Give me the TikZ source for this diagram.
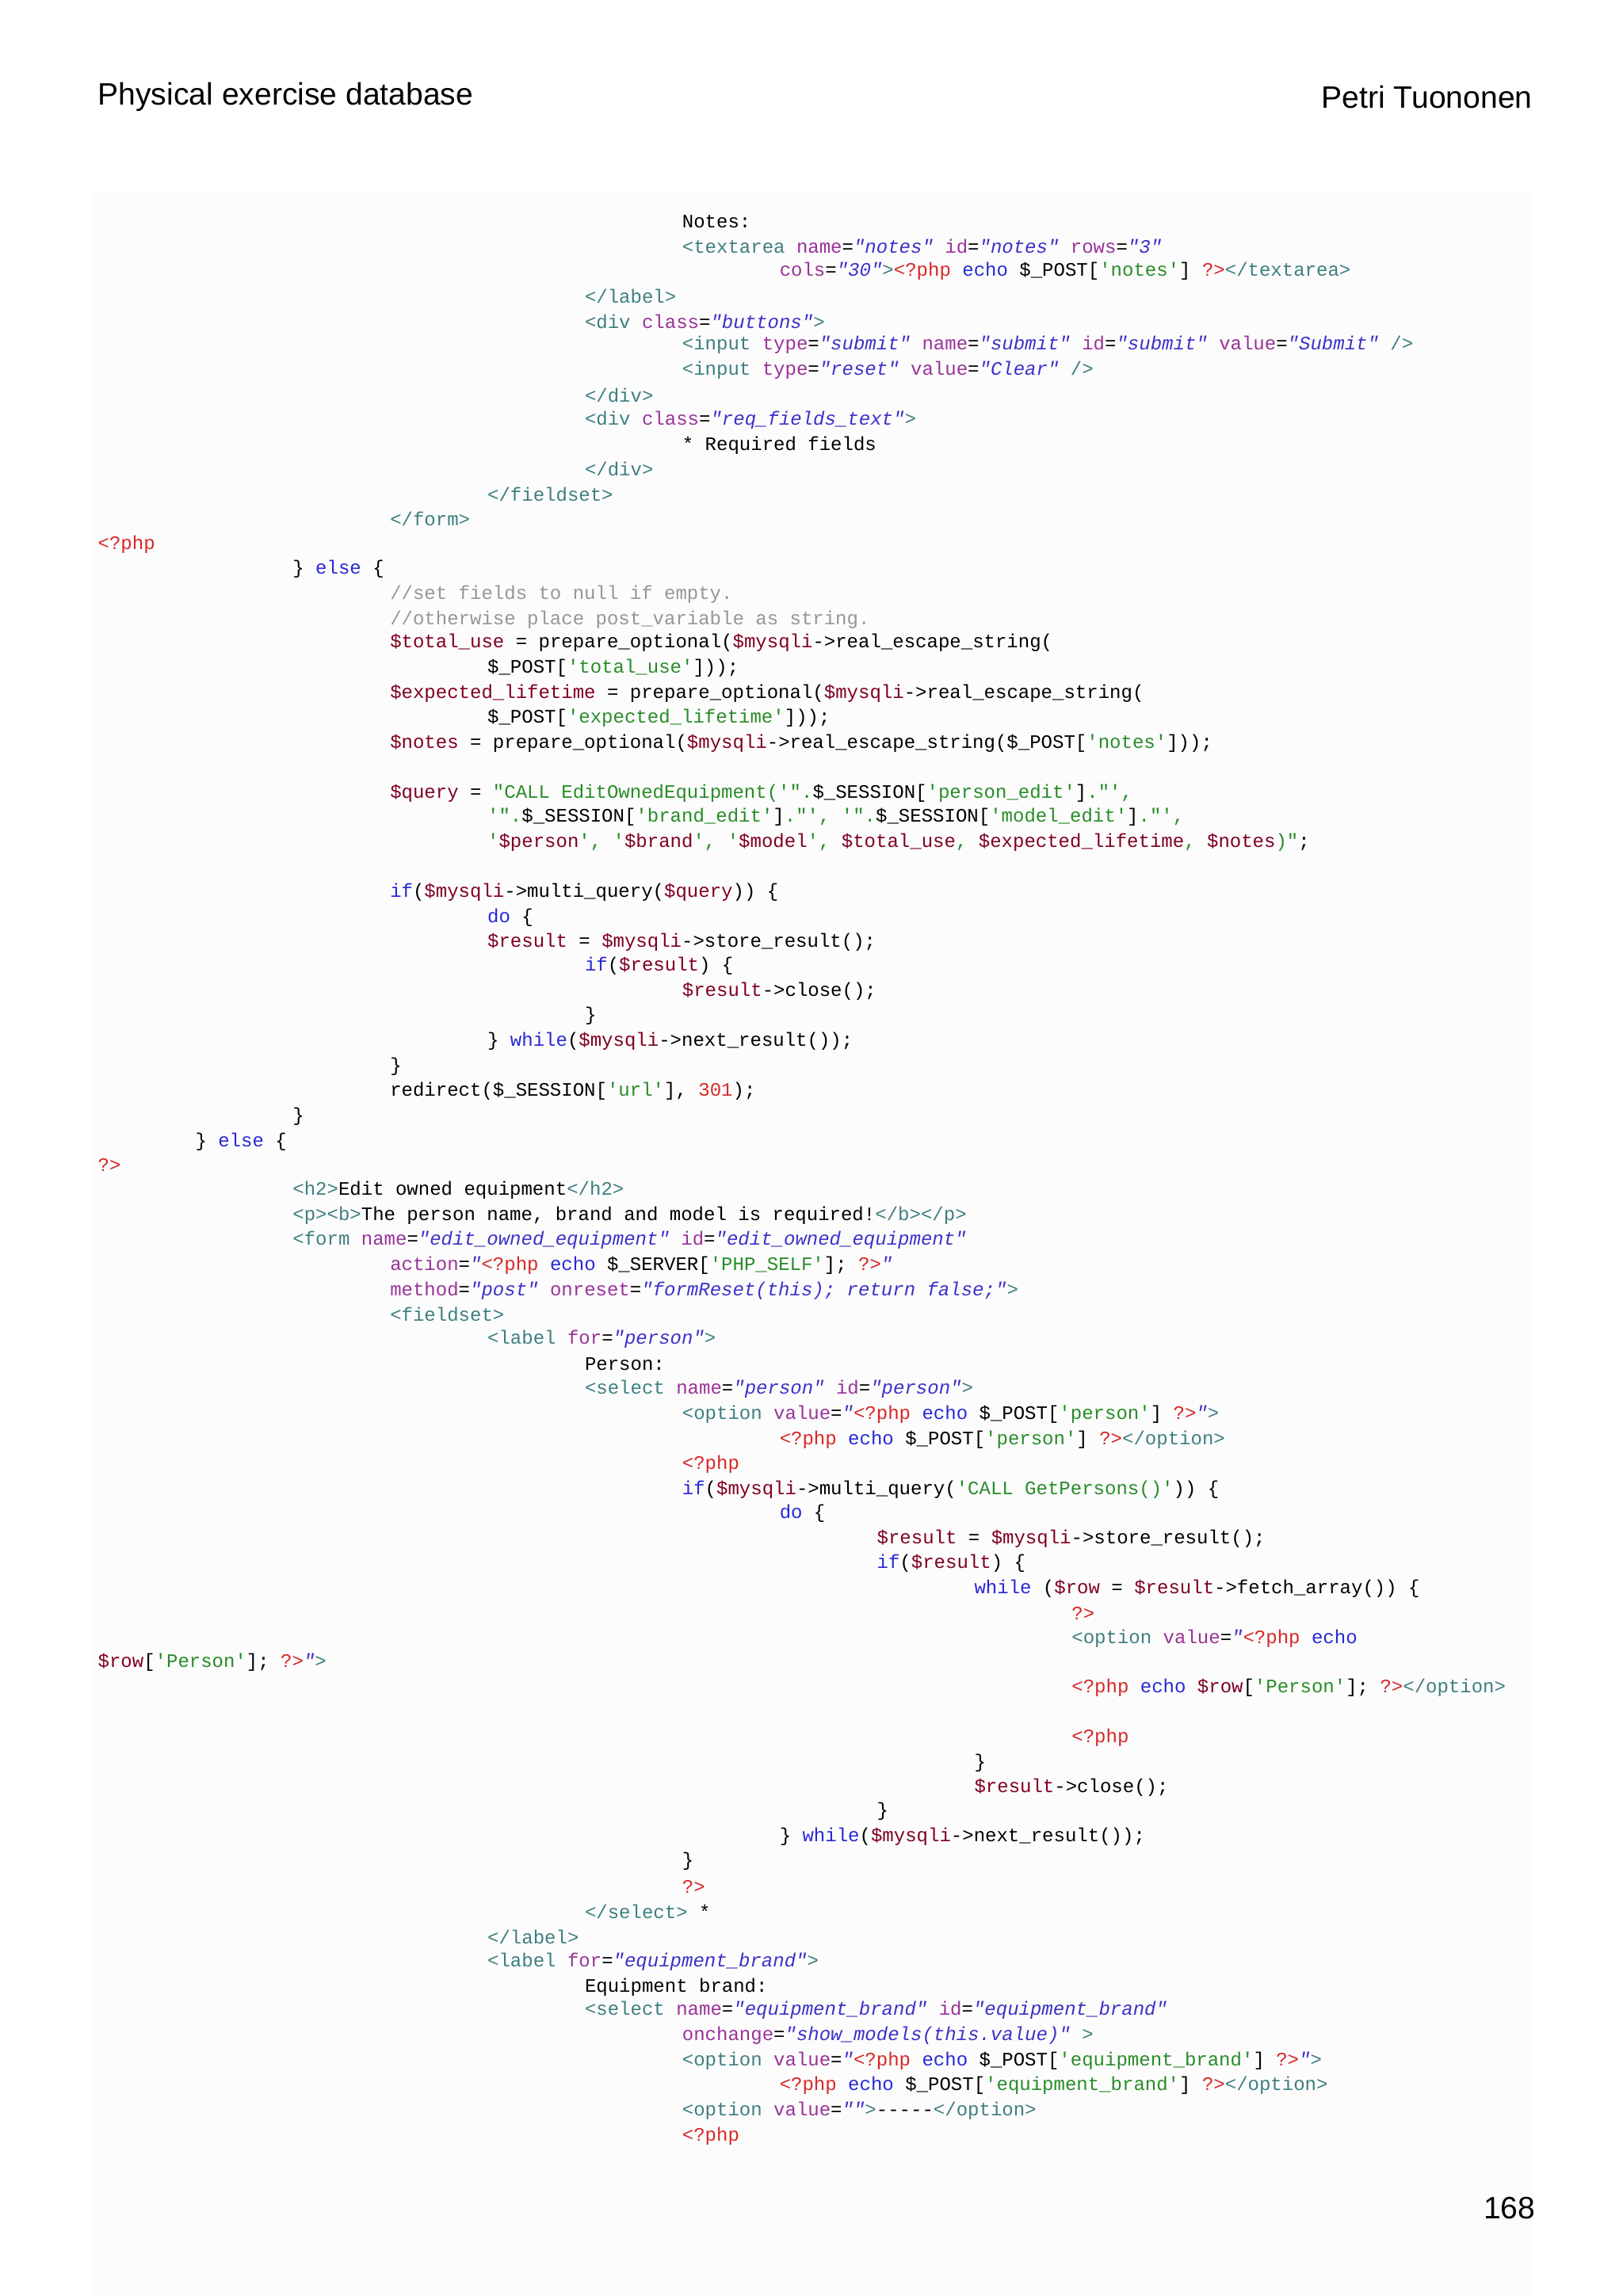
\documentclass[tikz,border=0pt]{standalone}
\usepackage{fontspec}
\setmainfont{Liberation Sans}
\newfontfamily\codefont{Liberation Mono}
\definecolor{ctag}{RGB}{63,127,127}
\definecolor{cattr}{RGB}{153,51,153}
\definecolor{cval}{RGB}{60,50,200}
\definecolor{cphp}{RGB}{215,40,40}
\definecolor{ckw}{RGB}{40,40,215}
\definecolor{cvar}{RGB}{128,0,32}
\definecolor{cstr}{RGB}{40,140,40}
\definecolor{ccom}{RGB}{150,150,150}
\newcommand\Tg[1]{\textcolor{ctag}{#1}}
\newcommand\At[1]{\textcolor{cattr}{#1}}
\newcommand\Va[1]{\textcolor{cval}{\itshape #1}}
\newcommand\Ph[1]{\textcolor{cphp}{#1}}
\newcommand\Kw[1]{\textcolor{ckw}{#1}}
\newcommand\Vr[1]{\textcolor{cvar}{#1}}
\newcommand\St[1]{\textcolor{cstr}{#1}}
\newcommand\Cm[1]{\textcolor{ccom}{#1}}
\newcounter{ln}
\newcommand\cl[3]{\stepcounter{ln}\node[codeline] (l\theln) at (#1,-#2) {#3};}
\begin{document}
\begin{tikzpicture}[x=0.5pt,y=0.5pt,
  codeline/.style={anchor=west,inner sep=0pt,font=\codefont\fontsize{6.45pt}{7pt}\selectfont},
  hdr/.style={inner sep=0pt,font=\fontsize{10.5pt}{12pt}\selectfont}]
\useasboundingbox (0,0) rectangle (1100,-1556.6);
\fill[white] (0,0) rectangle (1100,-1556.6);
\fill[black!1.2] (62,-130) rectangle (1040,-1556.6);
\node[hdr,anchor=west] (title) at (66,-66) {Physical exercise database};
\node[hdr,anchor=east] (author) at (1039,-66) {Petri Tuononen};
\node[hdr,anchor=east] (page) at (1041,-1497) {168};
\cl{462}{150}{Notes:}
\cl{462}{167}{\Tg{<textarea} \At{name}=\Va{"notes"} \At{id}=\Va{"notes"} \At{rows}=\Va{"3"}}
\cl{528}{184}{\At{cols}=\Va{"30"}\Tg{>}\Ph{<?php} \Kw{echo} \$\_POST[\St{'notes'}] \Ph{?>}\Tg{</textarea>}}
\cl{396}{201}{\Tg{</label>}}
\cl{396}{218}{\Tg{<div} \At{class}=\Va{"buttons"}\Tg{>}}
\cl{462}{234}{\Tg{<input} \At{type}=\Va{"submit"} \At{name}=\Va{"submit"} \At{id}=\Va{"submit"} \At{value}=\Va{"Submit"} \Tg{/>}}
\cl{462}{251}{\Tg{<input} \At{type}=\Va{"reset"} \At{value}=\Va{"Clear"} \Tg{/>}}
\cl{396}{268}{\Tg{</div>}}
\cl{396}{285}{\Tg{<div} \At{class}=\Va{"req\_fields\_text"}\Tg{>}}
\cl{462}{302}{* Required fields}
\cl{396}{318}{\Tg{</div>}}
\cl{330}{335}{\Tg{</fieldset>}}
\cl{264}{352}{\Tg{</form>}}
\cl{66}{369}{\Ph{<?php}}
\cl{198}{386}{\} \Kw{else} \{}
\cl{264}{403}{\Cm{//set fields to null if empty.}}
\cl{264}{420}{\Cm{//otherwise place post\_variable as string.}}
\cl{264}{436}{\Vr{\$total\_use} = prepare\_optional(\Vr{\$mysqli}->real\_escape\_string(}
\cl{330}{453}{\$\_POST[\St{'total\_use'}]));}
\cl{264}{470}{\Vr{\$expected\_lifetime} = prepare\_optional(\Vr{\$mysqli}->real\_escape\_string(}
\cl{330}{487}{\$\_POST[\St{'expected\_lifetime'}]));}
\cl{264}{504}{\Vr{\$notes} = prepare\_optional(\Vr{\$mysqli}->real\_escape\_string(\$\_POST[\St{'notes'}]));}
\cl{264}{538}{\Vr{\$query} = \St{"CALL EditOwnedEquipment('".}\$\_SESSION[\St{'person\_edit'}]\St{."',}}
\cl{330}{554}{\St{'".}\$\_SESSION[\St{'brand\_edit'}]\St{."', '".}\$\_SESSION[\St{'model\_edit'}]\St{."',}}
\cl{330}{571}{\St{'}\Vr{\$person}\St{', '}\Vr{\$brand}\St{', '}\Vr{\$model}\St{', }\Vr{\$total\_use}\St{, }\Vr{\$expected\_lifetime}\St{, }\Vr{\$notes}\St{)"};}
\cl{264}{605}{\Kw{if}(\Vr{\$mysqli}->multi\_query(\Vr{\$query})) \{}
\cl{330}{622}{\Kw{do} \{}
\cl{330}{639}{\Vr{\$result} = \Vr{\$mysqli}->store\_result();}
\cl{396}{655}{\Kw{if}(\Vr{\$result}) \{}
\cl{462}{672}{\Vr{\$result}->close();}
\cl{396}{689}{\}}
\cl{330}{706}{\} \Kw{while}(\Vr{\$mysqli}->next\_result());}
\cl{264}{723}{\}}
\cl{264}{740}{redirect(\$\_SESSION[\St{'url'}], \Ph{301});}
\cl{198}{757}{\}}
\cl{132}{774}{\} \Kw{else} \{}
\cl{66}{790}{\Ph{?>}}
\cl{198}{807}{\Tg{<h2>}Edit owned equipment\Tg{</h2>}}
\cl{198}{824}{\Tg{<p><b>}The person name, brand and model is required!\Tg{</b></p>}}
\cl{198}{841}{\Tg{<form} \At{name}=\Va{"edit\_owned\_equipment"} \At{id}=\Va{"edit\_owned\_equipment"}}
\cl{264}{858}{\At{action}=\Va{"}\Ph{<?php} \Kw{echo} \$\_SERVER[\St{'PHP\_SELF'}]; \Ph{?>}\Va{"}}
\cl{264}{875}{\At{method}=\Va{"post"} \At{onreset}=\Va{"formReset(this); return false;"}\Tg{>}}
\cl{264}{891}{\Tg{<fieldset>}}
\cl{330}{908}{\Tg{<label} \At{for}=\Va{"person"}\Tg{>}}
\cl{396}{925}{Person:}
\cl{396}{942}{\Tg{<select} \At{name}=\Va{"person"} \At{id}=\Va{"person"}\Tg{>}}
\cl{462}{959}{\Tg{<option} \At{value}=\Va{"}\Ph{<?php} \Kw{echo} \$\_POST[\St{'person'}] \Ph{?>}\Va{"}\Tg{>}}
\cl{528}{976}{\Ph{<?php} \Kw{echo} \$\_POST[\St{'person'}] \Ph{?>}\Tg{</option>}}
\cl{462}{993}{\Ph{<?php}}
\cl{462}{1010}{\Kw{if}(\Vr{\$mysqli}->multi\_query(\St{'CALL GetPersons()'})) \{}
\cl{528}{1026}{\Kw{do} \{}
\cl{594}{1043}{\Vr{\$result} = \Vr{\$mysqli}->store\_result();}
\cl{594}{1060}{\Kw{if}(\Vr{\$result}) \{}
\cl{660}{1077}{\Kw{while} (\Vr{\$row} = \Vr{\$result}->fetch\_array()) \{}
\cl{726}{1094}{\Ph{?>}}
\cl{726}{1111}{\Tg{<option} \At{value}=\Va{"}\Ph{<?php} \Kw{echo}}
\cl{66}{1127}{\Vr{\$row}[\St{'Person'}]; \Ph{?>}\Va{"}\Tg{>}}
\cl{726}{1144}{\Ph{<?php} \Kw{echo} \Vr{\$row}[\St{'Person'}]; \Ph{?>}\Tg{</option>}}
\cl{726}{1178}{\Ph{<?php}}
\cl{660}{1195}{\}}
\cl{660}{1212}{\Vr{\$result}->close();}
\cl{594}{1228}{\}}
\cl{528}{1245}{\} \Kw{while}(\Vr{\$mysqli}->next\_result());}
\cl{462}{1262}{\}}
\cl{462}{1279}{\Ph{?>}}
\cl{396}{1296}{\Tg{</select>} *}
\cl{330}{1313}{\Tg{</label>}}
\cl{330}{1330}{\Tg{<label} \At{for}=\Va{"equipment\_brand"}\Tg{>}}
\cl{396}{1347}{Equipment brand:}
\cl{396}{1363}{\Tg{<select} \At{name}=\Va{"equipment\_brand"} \At{id}=\Va{"equipment\_brand"}}
\cl{462}{1380}{\At{onchange}=\Va{"show\_models(this.value)"} \Tg{>}}
\cl{462}{1397}{\Tg{<option} \At{value}=\Va{"}\Ph{<?php} \Kw{echo} \$\_POST[\St{'equipment\_brand'}] \Ph{?>}\Va{"}\Tg{>}}
\cl{528}{1414}{\Ph{<?php} \Kw{echo} \$\_POST[\St{'equipment\_brand'}] \Ph{?>}\Tg{</option>}}
\cl{462}{1431}{\Tg{<option} \At{value}=\Va{""}\Tg{>}-----\Tg{</option>}}
\cl{462}{1448}{\Ph{<?php}}
\end{tikzpicture}
\end{document}
